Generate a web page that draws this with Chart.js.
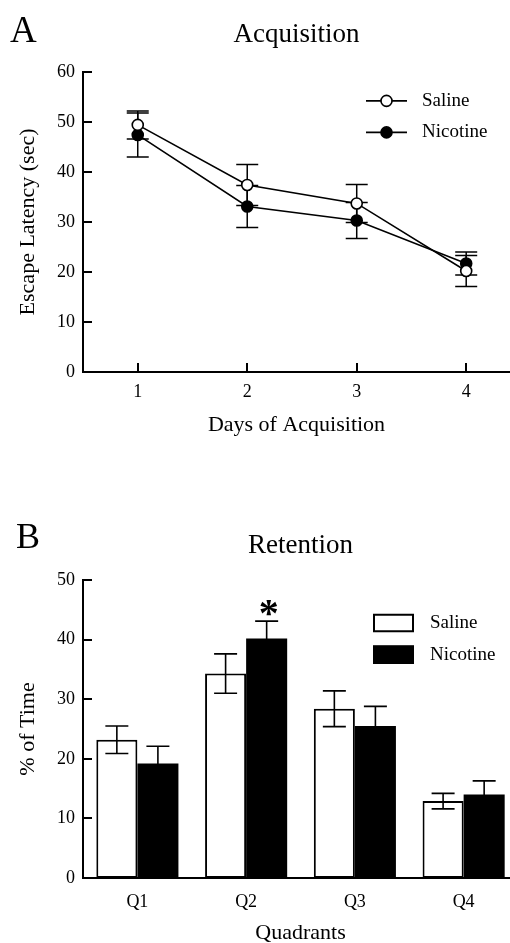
<!DOCTYPE html>
<html><head><meta charset="utf-8">
<script src="https://cdn.jsdelivr.net/npm/chart.js@4.4.0/dist/chart.umd.min.js"></script>
<style>
html,body{margin:0;padding:0;background:#fff;overflow:hidden;}
#wrap{width:510px;height:943px;overflow:hidden;position:relative;background:#fff;}
#boxA{position:absolute;left:0;top:0;width:510px;height:460px;}
#boxB{position:absolute;left:0;top:460px;width:518px;height:483px;}
</style></head><body>
<div id="wrap">
<div id="boxA"><canvas id="chartA" width="510" height="460"></canvas></div>
<div id="boxB"><canvas id="chartB" width="518" height="483"></canvas></div>
</div>
<script>
// ---- Panel A: Acquisition ----
const days = [1, 2, 3, 4];
const dayTicks = ['1', '2', '3', '4'];
const salineLatency = [49.4, 37.4, 33.7, 20.2];
const salineLatencySem = [2.8, 4.1, 3.8, 3.1];
const nicotineLatency = [47.4, 33.1, 30.3, 21.7];
const nicotineLatencySem = [4.4, 4.2, 3.6, 2.3];
const latencyTicks = [0, 10, 20, 30, 40, 50, 60];

// ---- Panel B: Retention ----
const quadrants = ['Q1', 'Q2', 'Q3', 'Q4'];
const salineTime = [23.2, 34.3, 28.4, 12.9];
const salineTimeSem = [2.3, 3.3, 3.0, 1.3];
const nicotineTime = [19.2, 40.2, 25.5, 14.0];
const nicotineTimeSem = [2.9, 2.9, 3.3, 2.3];
const significance = ['', '*', '', ''];
const timeTicks = [0, 10, 20, 30, 40, 50];

const SERIF = "'Liberation Serif', 'Times New Roman', serif";
Chart.defaults.font.family = SERIF;
Chart.defaults.color = '#000';

const errorBarPlugin = {
  id: 'errorBars',
  draw(chart, opts) {
    const {ctx} = chart;
    const yScale = chart.scales.y;
    ctx.save();
    ctx.strokeStyle = '#000';
    ctx.lineWidth = opts.lineWidth || 1.5;
    chart.data.datasets.forEach((ds, di) => {
      const meta = chart.getDatasetMeta(di);
      const errs = ds.errorBars || [];
      meta.data.forEach((el, i) => {
        const v = ds.data[i];
        const val = typeof v === 'object' ? v.y : v;
        const e = errs[i];
        if (e == null) return;
        const x = el.x;
        const yTop = yScale.getPixelForValue(val + e);
        const yBot = yScale.getPixelForValue(val - e);
        const hw = opts.capHalf || 11;
        ctx.beginPath();
        ctx.moveTo(x, yTop); ctx.lineTo(x, yBot);
        ctx.moveTo(x - hw, yTop); ctx.lineTo(x + hw, yTop);
        ctx.moveTo(x - hw, yBot); ctx.lineTo(x + hw, yBot);
        ctx.stroke();
      });
    });
    ctx.restore();
  },
  beforeDatasetsDraw(chart, args, opts) { if (opts.layer === 'before') this.draw(chart, opts); },
  afterDatasetsDraw(chart, args, opts) { if (opts.layer !== 'before') this.draw(chart, opts); }
};

const inTicksPlugin = {
  id: 'inTicks',
  afterDraw(chart, args, opts) {
    const {ctx, chartArea} = chart;
    ctx.save();
    ctx.strokeStyle = '#000';
    ctx.lineWidth = 2;
    ctx.beginPath();
    if (opts.y) {
      chart.scales.y.ticks.forEach(t => {
        const py = Math.round(chart.scales.y.getPixelForValue(t.value));
        ctx.moveTo(chartArea.left, py); ctx.lineTo(chartArea.left + opts.y, py);
      });
    }
    if (opts.x) {
      chart.scales.x.ticks.forEach(t => {
        const px = Math.round(chart.scales.x.getPixelForValue(t.value));
        ctx.moveTo(px, chartArea.bottom); ctx.lineTo(px, chartArea.bottom - opts.x);
      });
    }
    ctx.stroke();
    ctx.restore();
  }
};

const panelLegendPlugin = {
  id: 'panelLegend',
  afterDraw(chart, args, opts) {
    const {ctx, chartArea} = chart;
    ctx.save();
    ctx.font = opts.font;
    ctx.textBaseline = 'middle';
    ctx.textAlign = 'left';
    chart.data.datasets.forEach((ds, i) => {
      const y = chartArea.top + opts.y + i * opts.dy;
      const x0 = chartArea.left + opts.x;
      if (opts.kind === 'line') {
        ctx.strokeStyle = ds.borderColor;
        ctx.lineWidth = ds.borderWidth;
        ctx.beginPath(); ctx.moveTo(x0, y); ctx.lineTo(x0 + opts.w, y); ctx.stroke();
        ctx.beginPath();
        ctx.arc(x0 + opts.w / 2, y, ds.pointRadius, 0, Math.PI * 2);
        ctx.fillStyle = ds.pointBackgroundColor; ctx.fill();
        ctx.lineWidth = ds.pointBorderWidth; ctx.strokeStyle = ds.pointBorderColor; ctx.stroke();
      } else {
        ctx.fillStyle = ds.backgroundColor;
        ctx.fillRect(x0, y - opts.h / 2, opts.w, opts.h);
        ctx.lineWidth = 2; ctx.strokeStyle = ds.borderColor || '#000';
        ctx.strokeRect(x0 + 1, y - opts.h / 2 + 1, opts.w - 2, opts.h - 2);
      }
      ctx.fillStyle = '#000';
      ctx.fillText(ds.label, chartArea.left + opts.textX, y);
    });
    ctx.restore();
  }
};

const panelLetterPlugin = {
  id: 'panelLetter',
  afterDraw(chart, args, opts) {
    const {ctx} = chart;
    ctx.save();
    ctx.font = opts.font;
    ctx.fillStyle = '#000';
    ctx.textBaseline = 'alphabetic';
    ctx.textAlign = 'left';
    ctx.fillText(opts.text, opts.x, opts.y);
    ctx.restore();
  }
};

const sigPlugin = {
  id: 'sigMarks',
  afterDatasetsDraw(chart, args, opts) {
    if (!opts.marks) return;
    const {ctx} = chart;
    const di = opts.dataset;
    const ds = chart.data.datasets[di];
    const meta = chart.getDatasetMeta(di);
    ctx.save();
    ctx.font = opts.font;
    ctx.fillStyle = '#000';
    ctx.textAlign = 'center';
    ctx.textBaseline = 'middle';
    opts.marks.forEach((m, i) => {
      if (!m) return;
      const top = chart.scales.y.getPixelForValue(ds.data[i] + (ds.errorBars[i] || 0));
      ctx.fillText(m, meta.data[i].x + 2, top + opts.offset);
    });
    ctx.restore();
  }
};

// ---------- Chart A ----------
new Chart(document.getElementById('chartA'), {
  type: 'line',
  data: {
    datasets: [
      {
        label: 'Saline',
        data: days.map((d, i) => ({x: d, y: salineLatency[i]})),
        errorBars: salineLatencySem,
        borderColor: '#000', borderWidth: 1.6,
        pointRadius: 5.5, pointBackgroundColor: '#fff', pointBorderColor: '#000', pointBorderWidth: 1.6,
        pointHoverRadius: 5.5, tension: 0, fill: false
      },
      {
        label: 'Nicotine',
        data: days.map((d, i) => ({x: d, y: nicotineLatency[i]})),
        errorBars: nicotineLatencySem,
        borderColor: '#000', borderWidth: 1.6,
        pointRadius: 5.5, pointBackgroundColor: '#000', pointBorderColor: '#000', pointBorderWidth: 1.6,
        pointHoverRadius: 5.5, tension: 0, fill: false
      }
    ]
  },
  options: {
    responsive: false, animation: false, devicePixelRatio: 1,
    layout: {padding: 0, autoPadding: false},
    plugins: {
      legend: {display: false}, tooltip: {enabled: false},
      title: {
        display: true, text: 'Acquisition', fullSize: false,
        font: {size: 27, weight: 'normal', family: SERIF}, color: '#000',
        padding: {top: 19, bottom: 20.5}
      },
      errorBars: {layer: 'before', capHalf: 11, lineWidth: 1.5},
      inTicks: {x: 9, y: 9},
      panelLegend: {kind: 'line', x: 283, w: 41, y: 29, dy: 31.5, textX: 339, font: '19px ' + SERIF},
      panelLetter: {text: 'A', x: 10, y: 42, font: '37px ' + SERIF},
      sigMarks: {}
    },
    scales: {
      x: {
        type: 'linear', min: 0.5, max: 4.4,
        afterBuildTicks: (s) => { s.ticks = days.map(v => ({value: v})); },
        afterFit: (s) => { s.height = 88; },
        ticks: {
          font: {size: 18}, color: '#000', padding: 9, maxRotation: 0,
          callback: (v) => { const i = days.indexOf(v); return i >= 0 ? dayTicks[i] : ''; }
        },
        grid: {display: false, drawTicks: false},
        border: {display: true, color: '#000', width: 2},
        title: {display: true, text: 'Days of Acquisition', font: {size: 22}, color: '#000', padding: {top: 0, bottom: 22}}
      },
      y: {
        min: 0, max: 60,
        afterBuildTicks: (s) => { s.ticks = latencyTicks.map(v => ({value: v})); },
        afterFit: (s) => { s.width = 83; },
        ticks: {font: {size: 18}, color: '#000', padding: 8},
        grid: {display: false, drawTicks: false},
        border: {display: true, color: '#000', width: 2},
        title: {display: true, text: 'Escape Latency (sec)', font: {size: 22}, color: '#000', padding: {top: 15, bottom: 0}}
      }
    }
  },
  plugins: [errorBarPlugin, inTicksPlugin, panelLegendPlugin, panelLetterPlugin, sigPlugin]
});

// ---------- Chart B ----------
new Chart(document.getElementById('chartB'), {
  type: 'bar',
  data: {
    labels: quadrants,
    datasets: [
      {
        label: 'Saline', data: salineTime, errorBars: salineTimeSem,
        backgroundColor: '#fff', borderColor: '#000', borderWidth: 2, borderSkipped: false,
        barPercentage: 1, categoryPercentage: 0.755
      },
      {
        label: 'Nicotine', data: nicotineTime, errorBars: nicotineTimeSem,
        backgroundColor: '#000', borderColor: '#000', borderWidth: 0,
        barPercentage: 1, categoryPercentage: 0.755
      }
    ]
  },
  options: {
    responsive: false, animation: false, devicePixelRatio: 1,
    layout: {padding: 0, autoPadding: false},
    plugins: {
      legend: {display: false}, tooltip: {enabled: false},
      title: {
        display: true, text: 'Retention', fullSize: false,
        font: {size: 27, weight: 'normal', family: SERIF}, color: '#000',
        padding: {top: 70, bottom: 17.6}
      },
      errorBars: {layer: 'after', capHalf: 11.5, lineWidth: 1.6},
      inTicks: {x: 0, y: 9},
      panelLegend: {kind: 'box', x: 290, w: 41, h: 18.5, y: 43, dy: 31.7, textX: 347, font: '19px ' + SERIF},
      panelLetter: {text: 'B', x: 16, y: 88, font: '36px ' + SERIF},
      sigMarks: {dataset: 1, marks: significance, offset: -5, font: 'bold 40px ' + SERIF}
    },
    scales: {
      x: {
        afterFit: (s) => { s.height = 65; },
        ticks: {font: {size: 18}, color: '#000', padding: 13, maxRotation: 0},
        grid: {display: false, drawTicks: false},
        border: {display: true, color: '#000', width: 2},
        title: {display: true, text: 'Quadrants', font: {size: 22}, color: '#000', padding: {top: 0, bottom: -3}}
      },
      y: {
        min: 0, max: 50,
        afterBuildTicks: (s) => { s.ticks = timeTicks.map(v => ({value: v})); },
        afterFit: (s) => { s.width = 83; },
        ticks: {font: {size: 18}, color: '#000', padding: 8},
        grid: {display: false, drawTicks: false},
        border: {display: true, color: '#000', width: 2},
        title: {display: true, text: '% of Time', font: {size: 22}, color: '#000', padding: {top: 15, bottom: 0}}
      }
    }
  },
  plugins: [errorBarPlugin, inTicksPlugin, panelLegendPlugin, panelLetterPlugin, sigPlugin]
});
</script>
</body></html>
